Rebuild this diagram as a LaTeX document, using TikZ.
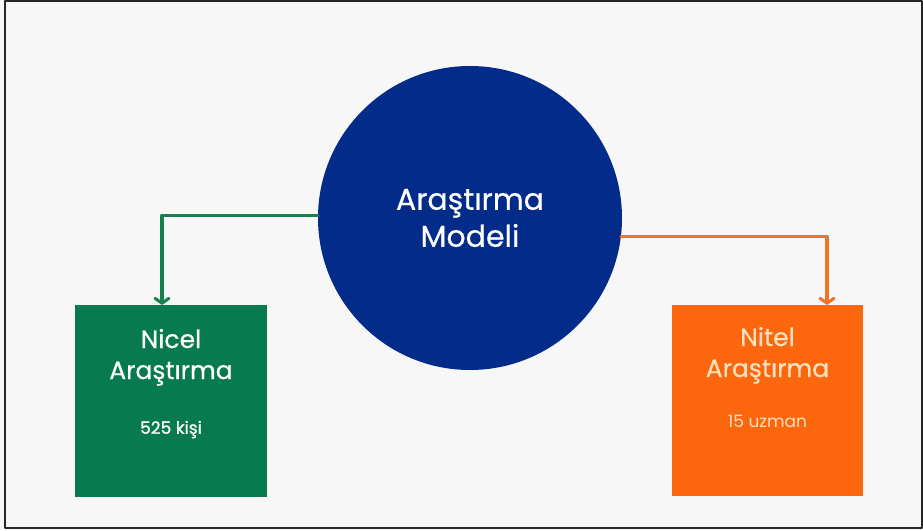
\documentclass[tikz,border=0pt]{standalone}
\usepackage{fontspec}
\setmainfont{Poppins}
\newfontfamily\ortafont[FakeBold=0.6]{Poppins}
\newfontfamily\kalinfont[FakeBold=1.2]{Poppins}
\usepackage{tikz}
\usetikzlibrary{calc}
\usetikzlibrary{arrows.meta}
\usetikzlibrary{positioning}
\definecolor{bgcolor}{rgb}{0.969,0.969,0.969}
\definecolor{qqttcc}{rgb}{0.01,0.17,0.54}
\definecolor{qqwwtt}{rgb}{0.03,0.48,0.31}
\definecolor{ffwwqq}{rgb}{0.99,0.40,0.05}
\definecolor{ffeecc}{rgb}{0.98,0.88,0.74}
\definecolor{wwqqtt}{rgb}{0.09,0.50,0.31}
\definecolor{ffttqq}{rgb}{0.94,0.45,0.15}
\tikzset{
  model/.style={circle,fill=qqttcc,minimum size=304pt,inner sep=0pt,text=white,align=center,font=\ortafont\fontsize{30}{37}\selectfont},
  kutu/.style={rectangle,minimum width=192pt,minimum height=192pt,inner sep=0pt},
  baslik/.style={align=center,inner sep=0pt,font=\ortafont\fontsize{25}{31}\selectfont},
  sayi/.style={inner sep=0pt,anchor=base,font=\fontsize{17}{18}\selectfont},
  ok/.style={line width=3.5pt,-{Straight Barb[length=5pt,width=14pt,line width=3pt,round]}}
}

\begin{document}
\begin{tikzpicture}[line cap=round,line join=round,x=1pt,y=1pt]
\clip(0,0) rectangle (923,530);
\fill[color=bgcolor] (0,0) rectangle (923,530);
\draw[line width=2pt,color=black!85] (5,2.5) rectangle (921.5,528.5);
% model ve iki kol
\node[model] (model) at (470,312) {Araştırma\\Modeli};
\node[kutu,fill=qqwwtt] (nicel) at (171,129) {};
\node[kutu,fill=ffwwqq,minimum width=191pt,minimum height=191pt] (nitel) at (767.5,129.5) {};
\node[baslik,text=white,below=24pt of nicel.north] (niceltitle) {Nicel\\Araştırma};
\node[baslik,text=ffeecc,below=22pt of nitel.north] (niteltitle) {Nitel\\Araştırma};
\node[sayi,text=white,font=\kalinfont\fontsize{17}{18}\selectfont] (nicelsayi) at ([yshift=-129pt]nicel.north) {525 kişi};
\node[sayi,text=ffeecc] (nitelsayi) at ([yshift=-123pt]nitel.north) {15 uzman};
\draw[ok,color=wwqqtt] (model.179) -| ([xshift=-9pt]nicel.north);
\draw[ok,color=ffttqq] (model.-7.5) -| ([xshift=59.5pt]nitel.north);
\end{tikzpicture}
\end{document}
